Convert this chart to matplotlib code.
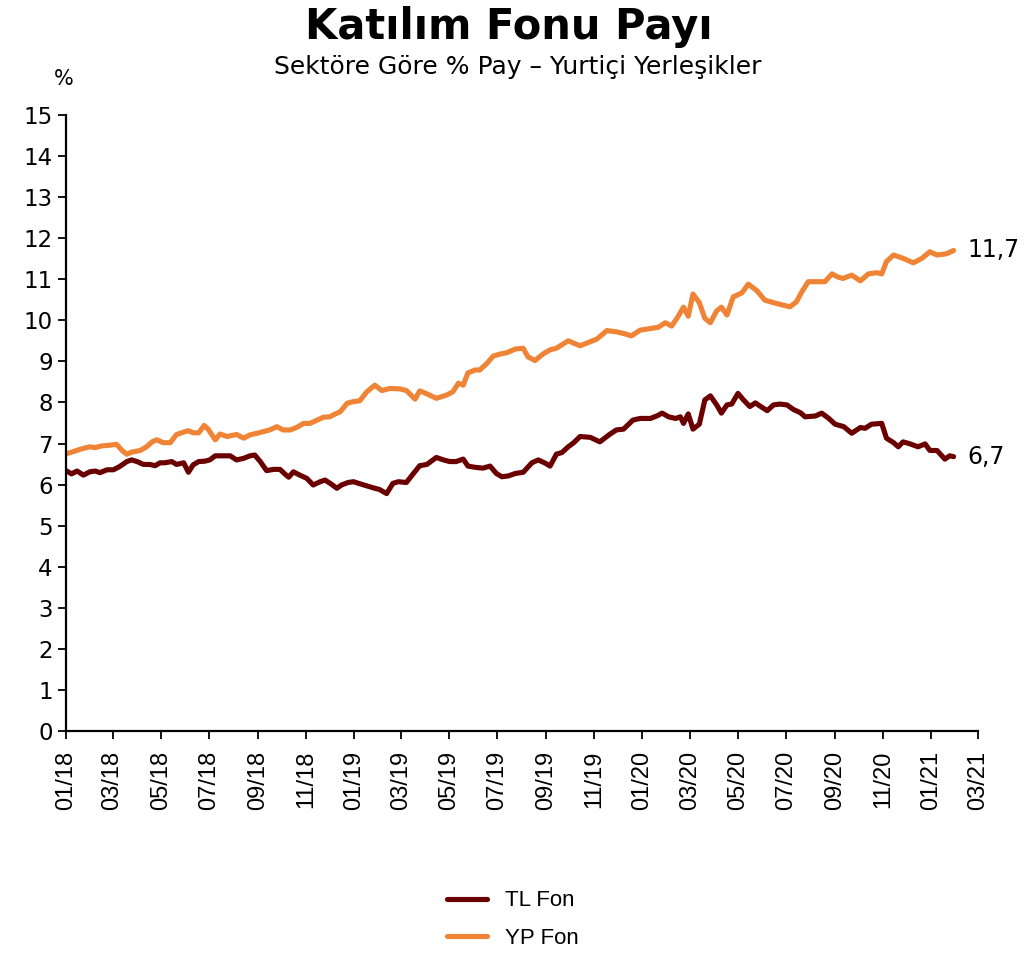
import numpy as np
import pandas as pd
import matplotlib
matplotlib.use("Agg")
import matplotlib.pyplot as plt

# weekly observations, stored as day offsets from 2018-01-01
start = pd.Timestamp("2018-01-01")

yp_day = [0, 9, 18, 30, 37, 45, 56, 64, 71, 77, 83, 94, 102, 109, 115, 123, 132, 140,
          151, 155, 161, 168, 175, 180, 189, 195, 204, 216, 225, 233, 242, 250, 258, 267,
          275, 284, 292, 301, 309, 318, 326, 334, 341, 347, 351, 356, 364, 372, 381, 391,
          400, 410, 423, 431, 442, 448, 457, 469, 482, 490, 497, 503, 509, 518, 524, 533,
          541, 550, 558, 569, 579, 585, 594, 604, 613, 621, 636, 651, 664, 672, 685, 697,
          708, 716, 727, 740, 750, 759, 767, 775, 782, 788, 794, 802, 809, 816, 824, 830,
          837, 845, 856, 864, 875, 885, 896, 908, 917, 925, 932, 940, 951, 961, 970, 978,
          984, 995, 1006, 1016, 1027, 1033, 1039, 1048, 1060, 1073, 1084, 1094, 1103, 1115,
          1124]
yp_val = [6.75, 6.80, 6.86, 6.92, 6.90, 6.94, 6.96, 6.98, 6.83, 6.74, 6.79, 6.83, 6.92,
          7.04, 7.09, 7.02, 7.02, 7.22, 7.29, 7.31, 7.26, 7.26, 7.44, 7.35, 7.09, 7.23, 7.17,
          7.22, 7.13, 7.21, 7.25, 7.29, 7.33, 7.41, 7.33, 7.33, 7.39, 7.49, 7.49, 7.57, 7.64,
          7.65, 7.72, 7.77, 7.86, 7.98, 8.02, 8.04, 8.26, 8.42, 8.29, 8.34, 8.33, 8.29, 8.08,
          8.28, 8.21, 8.10, 8.18, 8.26, 8.47, 8.42, 8.72, 8.79, 8.79, 8.95, 9.13, 9.18, 9.21,
          9.30, 9.32, 9.11, 9.02, 9.18, 9.28, 9.32, 9.50, 9.38, 9.48, 9.54, 9.75, 9.72, 9.67,
          9.62, 9.76, 9.80, 9.83, 9.94, 9.86, 10.09, 10.32, 10.10, 10.64, 10.43, 10.05, 9.94,
          10.23, 10.32, 10.13, 10.57, 10.67, 10.88, 10.72, 10.49, 10.43, 10.37, 10.33, 10.45,
          10.70, 10.94, 10.94, 10.94, 11.13, 11.05, 11.02, 11.10, 10.96, 11.13, 11.16, 11.13,
          11.43, 11.59, 11.51, 11.40, 11.51, 11.67, 11.59, 11.62, 11.70]

tl_day = [0, 7, 14, 22, 30, 37, 43, 52, 60, 68, 77, 83, 90, 98, 106, 113, 119, 125, 134,
          140, 149, 155, 161, 168, 176, 182, 189, 199, 208, 216, 225, 233, 239, 246, 254,
          263, 271, 277, 282, 288, 296, 305, 313, 322, 328, 336, 343, 349, 357, 364, 372,
          391, 397, 406, 414, 421, 431, 440, 448, 457, 469, 478, 486, 494, 503, 509, 518,
          528, 537, 545, 552, 560, 569, 579, 590, 598, 607, 613, 621, 628, 636, 643, 651,
          664, 676, 689, 697, 706, 718, 727, 740, 748, 755, 763, 772, 778, 782, 788, 794,
          802, 809, 816, 824, 830, 837, 843, 851, 858, 866, 873, 879, 888, 896, 904, 913,
          921, 930, 936, 949, 957, 966, 974, 985, 995, 1006, 1012, 1020, 1033, 1039, 1048,
          1054, 1060, 1069, 1079, 1088, 1094, 1103, 1113, 1119, 1124]
tl_val = [6.34, 6.26, 6.33, 6.23, 6.31, 6.33, 6.29, 6.36, 6.36, 6.44, 6.56, 6.60, 6.56,
          6.49, 6.49, 6.46, 6.53, 6.53, 6.56, 6.49, 6.53, 6.30, 6.48, 6.56, 6.57, 6.60, 6.70,
          6.70, 6.70, 6.60, 6.64, 6.70, 6.72, 6.56, 6.34, 6.37, 6.37, 6.26, 6.18, 6.31, 6.23,
          6.15, 5.99, 6.07, 6.11, 6.01, 5.91, 5.99, 6.05, 6.07, 6.02, 5.91, 5.88, 5.78, 6.03,
          6.07, 6.05, 6.27, 6.46, 6.49, 6.66, 6.60, 6.56, 6.56, 6.62, 6.45, 6.42, 6.40, 6.45,
          6.27, 6.19, 6.21, 6.27, 6.30, 6.53, 6.60, 6.52, 6.45, 6.74, 6.78, 6.92, 7.02, 7.17,
          7.15, 7.04, 7.23, 7.33, 7.35, 7.57, 7.61, 7.61, 7.67, 7.74, 7.65, 7.61, 7.65, 7.49,
          7.72, 7.35, 7.47, 8.06, 8.16, 7.94, 7.74, 7.94, 7.96, 8.22, 8.06, 7.90, 7.99, 7.91,
          7.80, 7.94, 7.96, 7.94, 7.83, 7.75, 7.65, 7.67, 7.74, 7.61, 7.47, 7.41, 7.25, 7.39,
          7.37, 7.47, 7.49, 7.13, 7.02, 6.92, 7.04, 6.99, 6.92, 6.99, 6.83, 6.83, 6.62, 6.70,
          6.68]

tl_color = "#6a0000"
yp_color = "#f08436"

tl_dates = start + pd.to_timedelta(tl_day, unit="D")
yp_dates = start + pd.to_timedelta(yp_day, unit="D")

fig = plt.figure(figsize=(10.25, 9.55), dpi=100)
ax = fig.add_axes([0.0644, 0.2346, 0.8898, 0.645])

ax.plot(tl_dates, tl_val, color=tl_color, lw=3.7, solid_joinstyle="round",
        solid_capstyle="round", label="TL Fon")
ax.plot(yp_dates, yp_val, color=yp_color, lw=3.7, solid_joinstyle="round",
        solid_capstyle="round", label="YP Fon")

ax.set_xlim(pd.Timestamp("2018-01-01"), pd.Timestamp("2021-03-01"))
ax.set_ylim(0, 15)
ax.set_yticks(range(0, 16))

ticks = pd.date_range("2018-01-01", "2021-03-01", freq="2MS")
ax.set_xticks(ticks)
ax.set_xticklabels([t.strftime("%m/%y") for t in ticks], rotation=90,
                   fontsize=17, family="Liberation Sans")
for lab in ax.get_yticklabels():
    lab.set_fontsize(16.5)

ax.tick_params(axis="both", direction="out", length=6, width=1.3, color="black")
ax.tick_params(axis="x", pad=8)
for s in ["top", "right"]:
    ax.spines[s].set_visible(False)
for s in ["left", "bottom"]:
    ax.spines[s].set_linewidth(1.6)

# end labels
ax.annotate("11,7", (yp_dates[-1], yp_val[-1]), xytext=(10, 0), textcoords="offset points",
            va="center", ha="left", fontsize=17, annotation_clip=False)
ax.annotate("6,7", (tl_dates[-1], tl_val[-1]), xytext=(10, 0), textcoords="offset points",
            va="center", ha="left", fontsize=17, annotation_clip=False)

fig.text(0.496, 0.972, "Katılım Fonu Payı", ha="center", va="center",
         fontsize=30, fontweight="bold")
fig.text(0.505, 0.930, "Sektöre Göre % Pay – Yurtiçi Yerleşikler", ha="center",
         va="center", fontsize=18)
fig.text(0.062, 0.917, "%", ha="center", va="center", fontsize=15)

fig.legend(loc="center", bbox_to_anchor=(0.5, 0.037), frameon=False,
           handlelength=1.8, labelspacing=0.75, prop={"family": "Liberation Sans", "size": 16})

fig.savefig("out.png", dpi=100)
